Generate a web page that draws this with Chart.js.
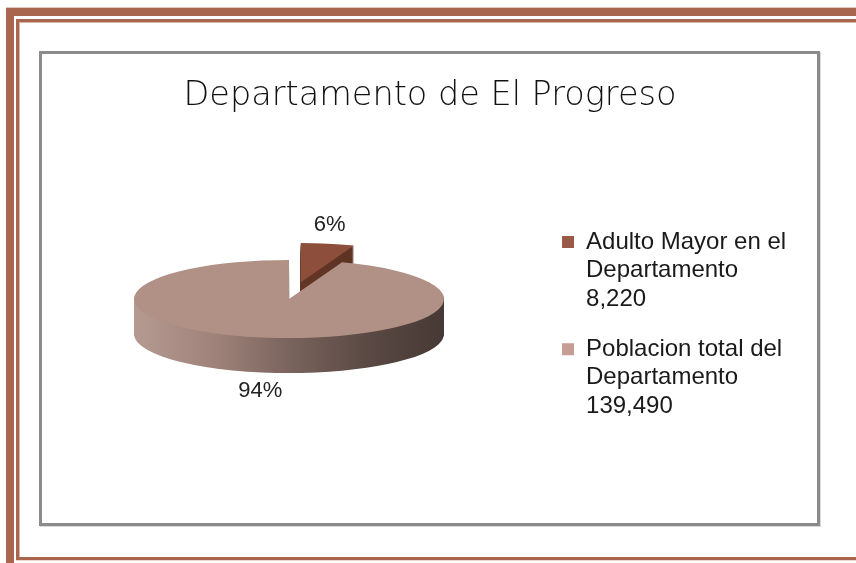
<!DOCTYPE html>
<html>
<head>
<meta charset="utf-8">
<script src="https://cdn.jsdelivr.net/npm/chart.js@4/dist/chart.umd.min.js"></script>
<style>
  html, body { margin: 0; padding: 0; background: #fff; }
  body { width: 856px; height: 563px; position: relative; overflow: hidden; }
  .frame-outer {
    position: absolute; left: 6px; top: 8px; width: 900px; height: 600px;
    border-top: 8px solid #a8664f; border-left: 8px solid #a8664f;
    box-shadow: 0 -1px 0 #e2c6ba;
  }
  .frame-inner {
    position: absolute; left: 16px; top: 19px; width: 900px; height: 541px;
    box-sizing: border-box; border: 3px solid #a8664f; border-right: none;
    box-shadow: inset 1px 1px 0 #dcb4a4, 0 1px 0 #eed8ce;
  }
  .plot-box {
    position: absolute; left: 39px; top: 51px; width: 781px; height: 475px;
    box-sizing: border-box; border: 3px solid #8b8b8b;
    box-shadow: 1px 1px 0 #dadada;
  }
  #chart { position: absolute; left: 20px; top: 53px; }
</style>
</head>
<body>
<div class="frame-outer"></div>
<div class="frame-inner"></div>
<div class="plot-box"></div>
<canvas id="chart" width="800" height="470"></canvas>
<script>
  var chartTitle = 'Departamento de El Progreso';
  var categories = ['Adulto Mayor en el Departamento', 'Poblacion total del Departamento'];
  var values = [8220, 139490];

  var topColors = ['#8d4f3c', '#b19186'];
  var legendColors = ['#9a5946', '#c59d92'];
  var sideStops = [
    ['#70402e', '#552c1e'],
    ['#b59a91', '#a0847b', '#7a645d', '#5a4944', '#473935']
  ];
  var explodeBy = [68, 0];

  var legendFont = '24px "Liberation Sans"';
  var legendPad = 21.5;
  var legendLeft = 524.5;   // where the legend box should start inside the canvas

  Chart.defaults.font.family = '"Liberation Sans", Arial, sans-serif';

  function wrapText(ctx, text, maxW) {
    var words = text.split(' '), lines = [], line = '';
    words.forEach(function(w) {
      var test = line ? line + ' ' + w : w;
      if (line && ctx.measureText(test).width > maxW) {
        lines.push(line);
        line = w;
      } else {
        line = test;
      }
    });
    if (line) lines.push(line);
    return lines;
  }

  function legendLines(ctx) {
    return categories.map(function(c, i) {
      return wrapText(ctx, c, 212).concat(values[i].toLocaleString('en-US'));
    });
  }

  // legend width as chart.js measures it, so the right padding puts it in place
  var mctx = document.createElement('canvas').getContext('2d');
  mctx.font = legendFont;
  var longest = [].concat.apply([], legendLines(mctx)).reduce(function(a, b) {
    return a.length > b.length ? a : b;
  });
  var legendWidth = legendPad + 12 + 12 + mctx.measureText(longest).width + 10;
  var padRight = 800 - legendLeft - legendWidth;

  function explode(ctx, arc, e) {
    var h = (arc.startAngle + arc.endAngle) / 2;
    ctx.translate(Math.cos(h) * e, Math.sin(h) * e);
  }

  // squashed pie with extruded sides, drawn from the arc elements
  var pie3d = {
    id: 'pie3d',
    beforeDatasetsDraw: function(chart, args, o) {
      var ctx = chart.ctx;
      var arcs = chart.getDatasetMeta(0).data;
      if (!arcs.length) return false;
      var cx = arcs[0].x, cy = arcs[0].y, r = arcs[0].outerRadius;
      var k = o.squash;

      ctx.save();
      ctx.translate(0, cy);
      ctx.scale(1, k);
      ctx.translate(0, -cy);

      arcs.forEach(function(arc, i) {
        var g = ctx.createLinearGradient(cx - r, 0, cx + r, 0);
        var stops = sideStops[i];
        stops.forEach(function(c, j) { g.addColorStop(j / (stops.length - 1), c); });
        var side = Object.create(arc);
        side.options = Object.assign({}, arc.options, { backgroundColor: g });
        for (var d = o.depth; d > 0; d--) {
          ctx.save();
          explode(ctx, arc, explodeBy[i]);
          ctx.translate(0, d / k);
          side.draw(ctx);
          ctx.restore();
        }
      });

      arcs.forEach(function(arc, i) {
        ctx.save();
        explode(ctx, arc, explodeBy[i]);
        arc.draw(ctx);
        ctx.restore();
      });
      ctx.restore();

      // percentage labels
      var total = values.reduce(function(a, b) { return a + b; }, 0);
      ctx.save();
      ctx.font = o.labelFont;
      ctx.fillStyle = o.labelColor;
      ctx.textAlign = 'center';
      ctx.textBaseline = 'middle';
      arcs.forEach(function(arc, i) {
        var h = (arc.startAngle + arc.endAngle) / 2;
        var c = Math.cos(h), s = Math.sin(h);
        var x = cx + c * explodeBy[i] + c * o.labelX;
        var y = cy + s * explodeBy[i] * k + s * o.labelY + (s > 0 ? o.depth : 0);
        ctx.fillText(Math.round(values[i] / total * 100) + '%', x, y);
      });
      ctx.restore();
      return false;
    }
  };

  var pageTitle = {
    id: 'pageTitle',
    afterDraw: function(chart, args, o) {
      var ctx = chart.ctx;
      ctx.save();
      ctx.font = o.font;
      ctx.fillStyle = o.color;
      ctx.textAlign = 'center';
      ctx.textBaseline = 'middle';
      ctx.fillText(chartTitle, o.x, o.y);
      ctx.restore();
    }
  };

  new Chart(document.getElementById('chart'), {
    type: 'pie',
    data: {
      labels: categories,
      datasets: [{
        data: values,
        backgroundColor: topColors,
        borderWidth: 0
      }]
    },
    options: {
      responsive: false,
      animation: false,
      events: [],
      radius: 155,
      layout: { padding: { left: 17.5, right: padRight, top: 22, bottom: 0 } },
      plugins: {
        tooltip: { enabled: false },
        pie3d: {
          squash: 0.252, depth: 35,
          labelX: 165, labelY: 58,
          labelFont: '22px "Liberation Sans"', labelColor: '#222'
        },
        pageTitle: {
          x: 410, y: 43,
          font: '300 33.5px "DejaVu Sans"', color: '#111'
        },
        legend: {
          position: 'right',
          align: 'start',
          title: { display: true, text: '', padding: { top: 121.5, bottom: 0 }, font: { size: 12, lineHeight: 1 } },
          labels: {
            boxWidth: 12,
            boxHeight: 12,
            padding: legendPad,
            color: '#1a1a1a',
            font: { size: 24, lineHeight: 1.19 },
            generateLabels: function(chart) {
              var ctx = chart.ctx;
              ctx.save();
              ctx.font = legendFont;
              var lines = legendLines(ctx);
              ctx.restore();
              return lines.map(function(t, i) {
                return {
                  text: t,
                  fillStyle: legendColors[i],
                  strokeStyle: legendColors[i],
                  lineWidth: 0,
                  fontColor: '#1a1a1a',
                  hidden: false,
                  index: i
                };
              });
            }
          }
        }
      }
    },
    plugins: [pie3d, pageTitle]
  });
</script>
</body>
</html>
